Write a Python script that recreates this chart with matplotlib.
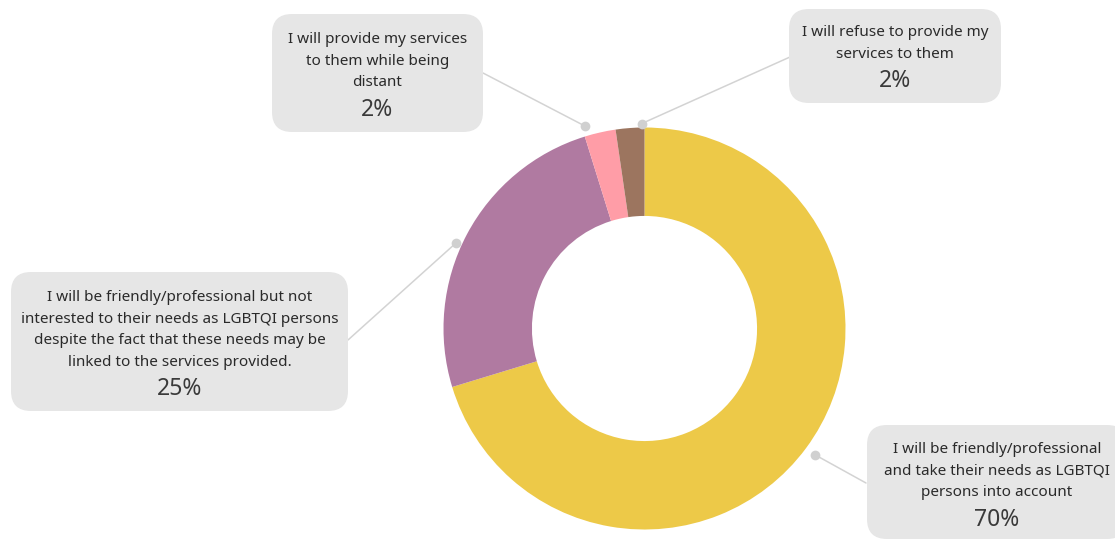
import numpy as np
import matplotlib
matplotlib.use("Agg")
import matplotlib.pyplot as plt
from matplotlib.patches import FancyBboxPatch

# Survey responses, clockwise from 12 o'clock
categories = [
    "I will be friendly/professional\nand take their needs as LGBTQI\npersons into account",
    "I will be friendly/professional but not\ninterested to their needs as LGBTQI persons\ndespite the fact that these needs may be\nlinked to the services provided.",
    "I will provide my services\nto them while being\ndistant",
    "I will refuse to provide my\nservices to them",
]
shares = [70.3, 24.9, 2.5, 2.3]
colors = ["#EDC948", "#B07AA1", "#FF9DA7", "#9C755F"]

W, H = 1115, 540
fig = plt.figure(figsize=(W / 100, H / 100), dpi=100)
ax = fig.add_axes([0, 0, 1, 1])

cx, cy, R = 644.5, 328.5, 201
ring = 0.44

# pie draws in a y-up frame; flip the angle direction to suit the inverted y axis
wedges, _ = ax.pie(shares, colors=colors, startangle=-90, counterclock=True,
                   center=(cx, cy), radius=R, frame=True,
                   wedgeprops=dict(width=R * ring, linewidth=0))
ax.set_xlim(0, W)
ax.set_ylim(H, 0)
ax.set_aspect("equal")
ax.axis("off")

font = "Noto Sans"
txt_color = "#2a2a2a"
box_color = "#E6E6E6"
line_color = "#D3D3D3"

# label boxes: (left, top, right, bottom), first text baseline, percent baseline
boxes = [
    ((867, 425, 1127, 539), 453, 526),
    ((11, 272, 348, 411), 301, 395),
    ((272, 14, 483, 132), 43, 116),
    ((789, 9, 1001, 103), 36, 87),
]
line_pitch = 21.7
# where the leader line meets each box
box_hooks = [(866, 483), (348, 340), (483, 73), (790, 57)]
# angular nudge of leader anchor from the slice midpoint (degrees, clockwise), radial distance
anchor_nudge = [(0.0, 212), (-3.5, 207), (-3.6, 211), (3.4, 205)]

cum = np.concatenate([[0], np.cumsum(shares)])
total = cum[-1]
for i, (cat, val) in enumerate(zip(categories, shares)):
    mid = (cum[i] + cum[i + 1]) / 2 / total * 360.0
    nud, dist = anchor_nudge[i]
    ang = np.deg2rad(mid + nud)
    px = cx + dist * np.sin(ang)
    py = cy - dist * np.cos(ang)
    hx, hy = box_hooks[i]
    ax.plot([px, hx], [py, hy], color=line_color, lw=1.1, zorder=1,
            solid_capstyle="round")
    ax.plot(px, py, "o", color="#D0D0D0", ms=7, mec="none", zorder=2)

    (l, t, r, b), ty, py_pct = boxes[i]
    rad = 20
    ax.add_patch(FancyBboxPatch((l + rad, t + rad), (r - l) - 2 * rad, (b - t) - 2 * rad,
                                boxstyle=f"round,pad={rad},rounding_size={rad}",
                                fc=box_color, ec="none", zorder=3, clip_on=True))
    bx = (l + r) / 2 if i != 0 else 997
    for k, line in enumerate(cat.split("\n")):
        ax.text(bx, ty + k * line_pitch, line, ha="center", va="baseline",
                fontsize=11, family=font, color=txt_color, zorder=4)
    ax.text(bx, py_pct, f"{val:.0f}%", ha="center", va="baseline", fontsize=16.5,
            family=font, color="#3a3a3a", zorder=4)

fig.savefig("out.png", dpi=100)
